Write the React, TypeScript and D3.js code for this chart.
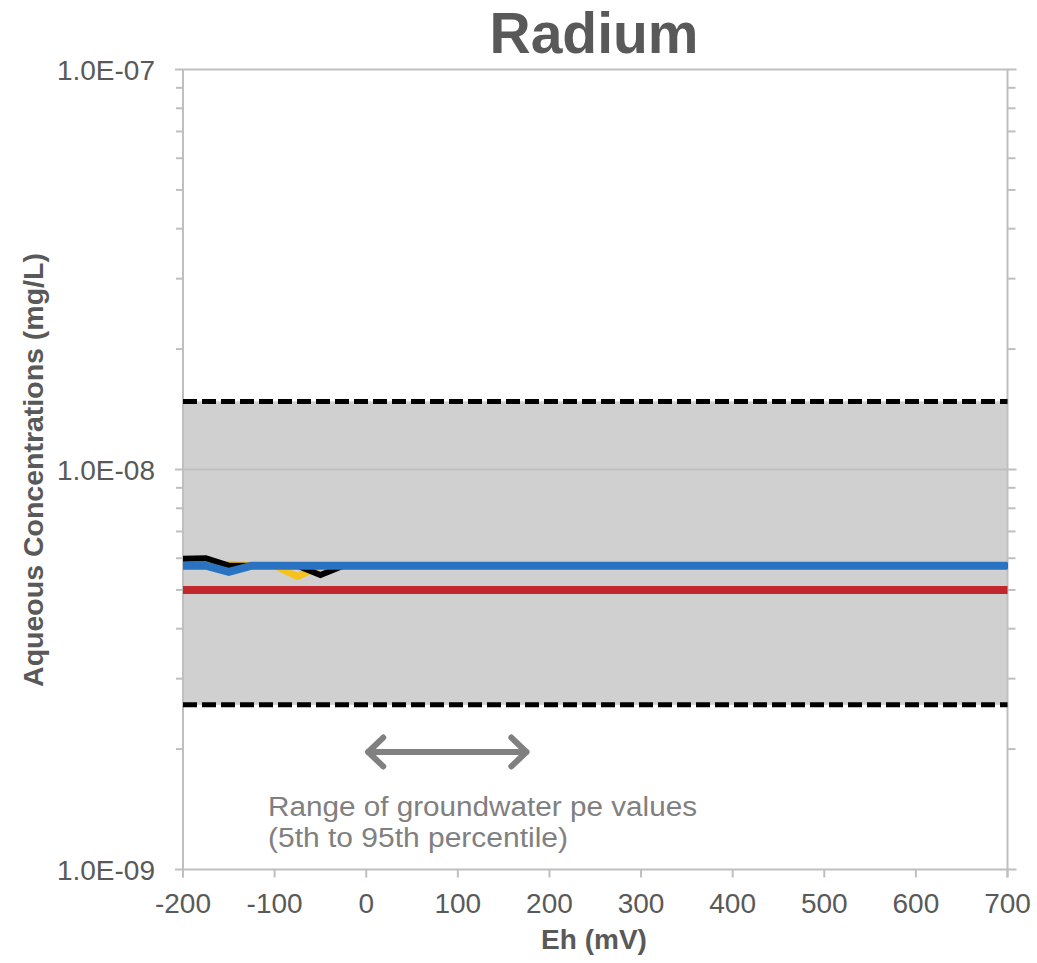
import React from "react";
import * as d3 from "d3";

// Eh (mV) breakpoints and aqueous radium concentrations (mg/L) per model series
const ehYellow = [-200, -175, -150, -125, -100, -75, -50, 700];
const concYellow = [5.75e-9, 5.75e-9, 5.8e-9, 5.75e-9, 5.75e-9, 5.4e-9, 5.75e-9, 5.75e-9];

const ehBlack = [-200, -175, -150, -125, -100, -75, -50, -25, 700];
const concBlack = [5.98e-9, 6.0e-9, 5.75e-9, 5.75e-9, 5.75e-9, 5.75e-9, 5.45e-9, 5.75e-9, 5.75e-9];

const ehBlue = [-200, -175, -150, -125, 700];
const concBlue = [5.75e-9, 5.75e-9, 5.55e-9, 5.75e-9, 5.75e-9];

const ehRed = [-200, 700];
const concRed = [5.0e-9, 5.0e-9];

// Observed concentration range (shaded band bounded by dashed lines)
const bandEh = [-200, 700];
const bandUpper = 1.48e-8;
const bandLower = 2.58e-9;

// Groundwater pe range, expressed on the Eh axis
const peRangeEh = [0, 177];

const xTicks = [-200, -100, 0, 100, 200, 300, 400, 500, 600, 700];
const yMajor = [1e-7, 1e-8, 1e-9];
const yMajorLabels = ["1.0E-07", "1.0E-08", "1.0E-09"];

const W = 1037;
const H = 963;
const left = 183;
const right = 1007.5;
const top = 69.5;
const bottom = 869.5;

const AXIS = "#bfbfbf";
const TEXT = "#595959";

export default function App() {
  const x = d3.scaleLinear().domain([-200, 700]).range([left, right]);
  const y = d3.scaleLog().domain([1e-9, 1e-7]).range([bottom, top]);

  const minor: number[] = [];
  for (const dec of [1e-9, 1e-8]) {
    for (let m = 2; m <= 9; m++) minor.push(dec * m);
  }

  const line = d3
    .line<[number, number]>()
    .x((d) => x(d[0]))
    .y((d) => y(d[1]))
    .curve(d3.curveLinear);

  const pts = (ehs: number[], cs: number[]) =>
    ehs.map((e, i) => [e, cs[i]] as [number, number]);

  const arrowY = 752;
  const ax0 = x(peRangeEh[0]);
  const ax1 = x(peRangeEh[1]);
  const head = 17;

  return (
    <svg
      width={W}
      height={H}
      style={{ position: "absolute", left: 0, top: 0, background: "#fff" }}
      fontFamily="'Liberation Sans', Arial, sans-serif"
    >
      {/* shaded band */}
      <rect
        x={x(bandEh[0])}
        y={y(bandUpper)}
        width={x(bandEh[1]) - x(bandEh[0])}
        height={y(bandLower) - y(bandUpper)}
        fill="#d0d0d0"
      />

      {/* horizontal gridlines at decades */}
      {yMajor.map((v) => (
        <line key={v} x1={left - 8} x2={right + 9} y1={y(v)} y2={y(v)} stroke={AXIS} strokeWidth={2} />
      ))}

      {/* axes */}
      <line x1={left} x2={left} y1={top} y2={bottom + 8} stroke={AXIS} strokeWidth={2} />
      <line x1={right} x2={right} y1={top} y2={bottom + 8} stroke={AXIS} strokeWidth={2} />
      {minor.map((v) => (
        <g key={v}>
          <line x1={left - 7} x2={left} y1={y(v)} y2={y(v)} stroke={AXIS} strokeWidth={2} />
          <line x1={right} x2={right + 8} y1={y(v)} y2={y(v)} stroke={AXIS} strokeWidth={2} />
        </g>
      ))}
      {xTicks.map((t) => (
        <line key={t} x1={x(t)} x2={x(t)} y1={bottom} y2={bottom + 8} stroke={AXIS} strokeWidth={2} />
      ))}

      {/* band limits */}
      {[bandUpper, bandLower].map((v) => (
        <line
          key={v}
          x1={x(bandEh[0])}
          x2={x(bandEh[1])}
          y1={y(v)}
          y2={y(v)}
          stroke="#000"
          strokeWidth={5}
          strokeDasharray="14,5"
        />
      ))}

      {/* series */}
      <path d={line(pts(ehRed, concRed)) || ""} fill="none" stroke="#c0282d" strokeWidth={8} />
      <path d={line(pts(ehYellow, concYellow)) || ""} fill="none" stroke="#f8c21c" strokeWidth={7} strokeLinejoin="round" />
      <path d={line(pts(ehBlack, concBlack)) || ""} fill="none" stroke="#000" strokeWidth={6} />
      <path d={line(pts(ehBlue, concBlue)) || ""} fill="none" stroke="#2a72c2" strokeWidth={8} />

      {/* pe range arrow */}
      <g stroke="#808080" strokeWidth={6} fill="none" strokeLinecap="round" strokeLinejoin="round">
        <line x1={ax0 + 2} x2={ax1 - 2} y1={arrowY} y2={arrowY} />
        <polyline points={`${ax0 + head},${arrowY - head * 0.85} ${ax0 + 2},${arrowY} ${ax0 + head},${arrowY + head * 0.85}`} />
        <polyline points={`${ax1 - head},${arrowY - head * 0.85} ${ax1 - 2},${arrowY} ${ax1 - head},${arrowY + head * 0.85}`} />
      </g>
      <text x={268} y={816} fontSize={27} fill="#808080" textLength={429} lengthAdjust="spacingAndGlyphs">
        Range of groundwater pe values
      </text>
      <text x={268} y={847} fontSize={27} fill="#808080" textLength={300} lengthAdjust="spacingAndGlyphs">
        (5th to 95th percentile)
      </text>

      {/* tick labels */}
      {yMajor.map((v, i) => (
        <text key={v} x={155} y={y(v) + 10} fontSize={28} fill={TEXT} textAnchor="end">
          {yMajorLabels[i]}
        </text>
      ))}
      {xTicks.map((t) => (
        <text key={t} x={x(t)} y={913} fontSize={28} fill={TEXT} textAnchor="middle">
          {t}
        </text>
      ))}

      {/* titles */}
      <text x={594} y={53} fontSize={57} fontWeight="bold" fill={TEXT} textAnchor="middle">
        Radium
      </text>
      <text x={594} y={949} fontSize={28} fontWeight="bold" fill={TEXT} textAnchor="middle">
        Eh (mV)
      </text>
      <text
        transform={`translate(43, 470) rotate(-90)`}
        fontSize={28.5}
        fontWeight="bold"
        fill={TEXT}
        textAnchor="middle"
      >
        Aqueous Concentrations (mg/L)
      </text>
    </svg>
  );
}
